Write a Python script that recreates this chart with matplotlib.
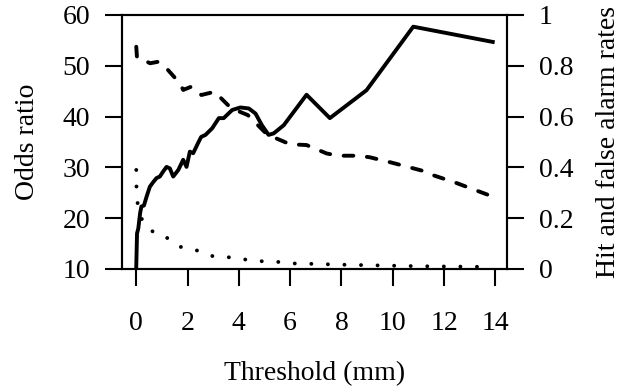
import numpy as np
import matplotlib.pyplot as plt

plt.rcParams.update({'font.family': 'Liberation Serif', 'font.size': 20})

# odds ratio (left axis)
thr_or = [0, 0.03, 0.08, 0.15, 0.2, 0.3, 0.4, 0.53, 0.66, 0.79, 0.92, 1.05, 1.18, 1.31,
          1.44, 1.64, 1.83, 1.96, 2.09, 2.22, 2.4, 2.53, 2.7, 2.96, 3.22, 3.41, 3.74,
          4.06, 4.39, 4.65, 4.9, 5.16, 5.36, 5.75, 6.64, 7.55, 8.98, 10.8, 13.9]
odds = [10.5, 17, 18, 21, 22.3, 22.5, 24.2, 26.2, 27.1, 27.9, 28.2, 29.2, 30.1, 29.8,
        28.2, 29.5, 31.5, 30.1, 33.1, 32.8, 34.7, 36.0, 36.4, 37.7, 39.7, 39.7, 41.3,
        41.8, 41.6, 40.6, 38.3, 36.4, 36.7, 38.3, 44.3, 39.7, 45.2, 57.7, 54.7]

# hit rate (right axis)
thr_hit = [0, 0.03, 0.28, 0.54, 0.86, 1.18, 1.7, 1.83, 2.15, 2.54, 3.06, 3.38, 3.7,
           4.35, 5.12, 5.3, 6.0, 6.64, 7.42, 7.87, 8.65, 9.1, 9.95, 11.19, 11.64, 12.42, 13.9]
hit = [0.875, 0.83, 0.823, 0.81, 0.816, 0.79, 0.731, 0.705, 0.718, 0.685, 0.698, 0.665,
       0.633, 0.606, 0.528, 0.521, 0.491, 0.488, 0.455, 0.446, 0.446, 0.44, 0.419,
       0.386, 0.367, 0.341, 0.285]

# false alarm rate (right axis)
thr_fa = [0, 0.01, 0.06, 0.25, 0.74, 1.14, 1.66, 2.21, 2.82, 3.47, 4.12, 4.77, 5.42,
          6.07, 7, 8, 9, 10, 11, 12, 13, 13.9]
fa = [0.39, 0.315, 0.249, 0.186, 0.138, 0.127, 0.088, 0.08, 0.052, 0.048, 0.039, 0.031,
      0.029, 0.022, 0.02, 0.017, 0.015, 0.013, 0.011, 0.01, 0.009, 0.008]

fig = plt.figure(figsize=(6.3, 3.87), dpi=100)
ax = fig.add_axes([122/630, 1-269/387, (507-122)/630, (269-15)/387])
ax2 = ax.twinx()

lw = 2.8
ax.plot(thr_or, odds, color='black', linewidth=lw, solid_joinstyle='round')
ax2.plot(thr_hit, hit, color='black', linewidth=lw, linestyle=(0, (2.5, 3.5)),
         dash_capstyle='round')
ax2.plot(thr_fa, fa, color='black', linewidth=lw, linestyle=(0, (0.01, 4.25)),
         dash_capstyle='round')

ax.set_xlim(-0.556, 14.456)
ax.set_ylim(10, 60)
ax2.set_ylim(0, 1)
ax.set_xticks(np.arange(0, 15, 2))
ax.set_yticks(np.arange(10, 61, 10))
ax2.set_yticks([0, 0.2, 0.4, 0.6, 0.8, 1])
ax2.set_yticklabels(['0', '0.2', '0.4', '0.6', '0.8', '1'])

for a in (ax, ax2):
    for s in a.spines.values():
        s.set_linewidth(1.5)
    a.tick_params(length=12, width=1.5)
ax.tick_params(axis='x', pad=18)
ax.tick_params(axis='y', pad=11)
ax2.tick_params(axis='y', pad=11)

ax.set_xlabel('Threshold (mm)', labelpad=18)
ax.set_ylabel('Odds ratio', labelpad=16)
ax2.set_ylabel('Hit and false alarm rates', labelpad=16)

fig.savefig('out.png', dpi=100)
